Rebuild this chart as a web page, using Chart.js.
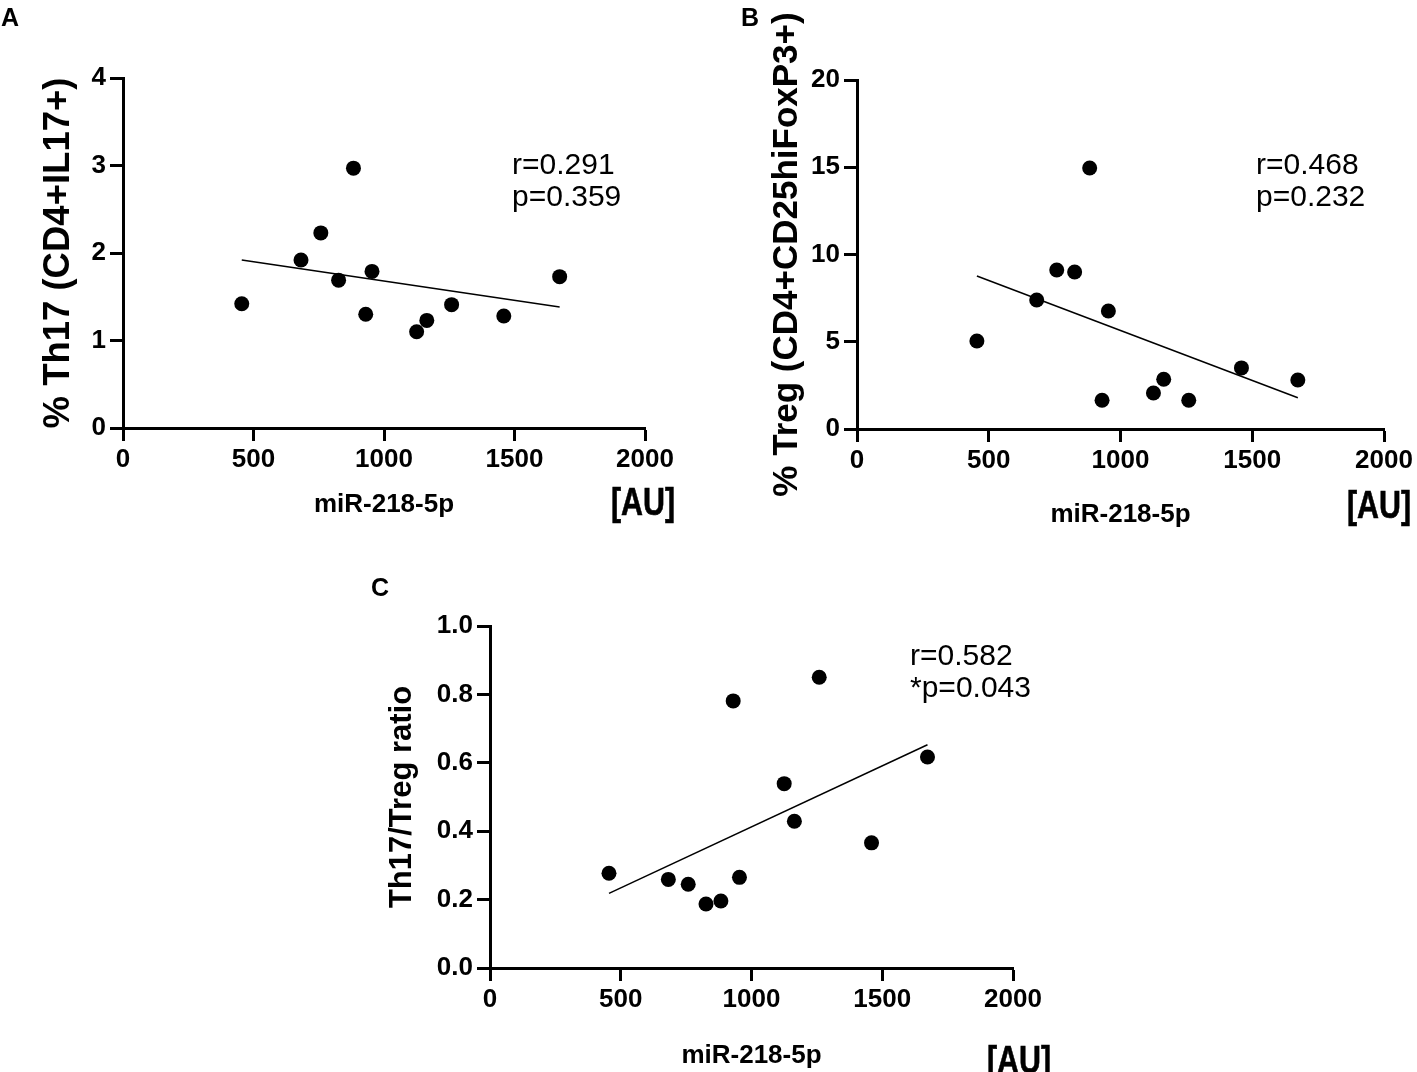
<!DOCTYPE html>
<html lang="en">
<head>
  <meta charset="UTF-8" />
  <title>miR-218-5p correlations</title>
  <script src="https://cdn.jsdelivr.net/npm/chart.js"></script>
  <style>
    body { margin: 0; background: #fff; }
    #page { position: relative; width: 1417px; height: 1072px; overflow: hidden; font-family: "Liberation Sans", Arial, sans-serif; color: #000; }
    #page canvas { position: absolute; }
    .lettre { position: absolute; font-weight: bold; font-size: 25px; line-height: 25px; }
    .stat { position: absolute; font-size: 30px; line-height: 32px; white-space: nowrap; }
    .au { position: absolute; font-weight: bold; font-size: 38px; line-height: 38px; transform: scaleX(0.8); transform-origin: left top; white-space: nowrap; -webkit-text-stroke: 0.6px #000; }
  </style>
</head>
<body>
  <div id="page">
    <canvas id="chartA" width="700" height="545" style="left:0; top:0;"></canvas>
    <canvas id="chartB" width="677" height="545" style="left:740px; top:0;"></canvas>
    <canvas id="chartC" width="700" height="502" style="left:360px; top:570px;"></canvas>

    <div class="lettre" style="left:1px; top:5px;">A</div>
    <div class="lettre" style="left:741px; top:5px;">B</div>
    <div class="lettre" style="left:371px; top:575px;">C</div>

    <div class="stat" style="left:512px; top:148px;">r=0.291<br>p=0.359</div>
    <div class="stat" style="left:1256px; top:148px;">r=0.468<br>p=0.232</div>
    <div class="stat" style="left:910px; top:639px;">r=0.582<br>*p=0.043</div>

    <div class="au" style="left:611px; top:483px;">[AU]</div>
    <div class="au" style="left:1347px; top:486px;">[AU]</div>
    <div class="au" style="left:987px; top:1041px;">[AU]</div>
  </div>

  <script>
    // valeurs (miR-218-5p en AU)
    const mir = [455, 682, 758, 826, 883, 930, 954, 1125, 1164, 1259, 1459, 1673];
    const th17 = [1.42, 1.92, 2.23, 1.69, 2.97, 1.30, 1.79, 1.10, 1.23, 1.41, 1.28, 1.73];
    const treg = [5.04, 7.39, 9.11, 9.00, 14.96, 1.65, 6.76, 2.06, 2.85, 1.65, 3.50, 2.81];
    const ratio = [0.277, 0.259, 0.245, 0.187, 0.196, 0.781, 0.265, 0.539, 0.429, 0.850, 0.366, 0.617];

    const xTicks = [0, 500, 1000, 1500, 2000];
    const yTicksA = [0, 1, 2, 3, 4];
    const yTicksB = [0, 5, 10, 15, 20];
    const yTicksC = [0, 0.2, 0.4, 0.6, 0.8, 1.0];

    const police = '"Liberation Sans", Arial, sans-serif';

    function regression(xs, ys) {
      const n = xs.length;
      const mx = xs.reduce((a, b) => a + b, 0) / n;
      const my = ys.reduce((a, b) => a + b, 0) / n;
      let sxy = 0, sxx = 0;
      xs.forEach((x, i) => {
        sxy += (x - mx) * (ys[i] - my);
        sxx += (x - mx) * (x - mx);
      });
      const pente = sxy / sxx;
      const x0 = Math.min(...xs);
      const x1 = Math.max(...xs);
      return [
        { x: x0, y: my + pente * (x0 - mx) },
        { x: x1, y: my + pente * (x1 - mx) }
      ];
    }

    function setTicks(values) {
      return scale => {
        scale.ticks = values.map(v => ({ value: v }));
      };
    }

    function tracer(id, ys, yTicks, cfg) {
      const axe = {
        color: '#000',
        grid: { display: true, drawOnChartArea: false, drawTicks: true, tickLength: 13, tickWidth: 3, tickColor: '#000' },
        border: { display: true, color: '#000', width: 3 }
      };

      new Chart(document.getElementById(id), {
        type: 'scatter',
        data: {
          datasets: [
            {
              data: regression(mir, ys),
              showLine: true,
              borderColor: '#000',
              borderWidth: 1.5,
              pointRadius: 0,
              order: 2
            },
            {
              data: mir.map((x, i) => ({ x: x, y: ys[i] })),
              backgroundColor: '#000',
              borderWidth: 0,
              pointRadius: 7.5,
              order: 1
            }
          ]
        },
        options: {
          responsive: false,
          animation: false,
          devicePixelRatio: 1,
          layout: { padding: cfg.padding },
          plugins: { legend: { display: false }, tooltip: { enabled: false } },
          scales: {
            x: {
              ...axe,
              type: 'linear',
              min: xTicks[0],
              max: xTicks[xTicks.length - 1],
              afterBuildTicks: setTicks(xTicks),
              ticks: {
                color: '#000',
                padding: 3,
                maxRotation: 0,
                font: { family: police, size: 26, weight: 'bold' },
                callback: v => String(v)
              },
              title: {
                display: true,
                text: 'miR-218-5p',
                color: '#000',
                font: { family: police, size: 26, weight: 'bold' },
                padding: { top: 0, bottom: cfg.xTitlePad }
              },
              afterFit: s => { s.height = cfg.xHeight; }
            },
            y: {
              ...axe,
              type: 'linear',
              min: yTicks[0],
              max: yTicks[yTicks.length - 1],
              afterBuildTicks: setTicks(yTicks),
              ticks: {
                color: '#000',
                padding: 4,
                font: { family: police, size: 26, weight: 'bold' },
                callback: v => cfg.decimales ? v.toFixed(cfg.decimales) : String(v)
              },
              title: {
                display: true,
                text: cfg.yTitle,
                color: '#000',
                font: { family: police, size: cfg.yTitleSize, weight: 'bold' },
                padding: { top: cfg.yTitlePad, bottom: 0 }
              },
              afterFit: s => { s.width = cfg.yWidth; }
            }
          }
        }
      });
    }

    tracer('chartA', th17, yTicksA, {
      padding: { left: 0, top: 78, right: 55, bottom: 0 },
      yWidth: 123, xHeight: 117, xTitlePad: 25, yTitlePad: 37, yTitleSize: 36.5,
      yTitle: '% Th17 (CD4+IL17+)'
    });

    tracer('chartB', treg, yTicksB, {
      padding: { left: 0, top: 80, right: 33, bottom: 0 },
      yWidth: 117, xHeight: 116, xTitlePad: 15, yTitlePad: 26, yTitleSize: 35,
      yTitle: '% Treg (CD4+CD25hiFoxP3+)'
    });

    tracer('chartC', ratio, yTicksC, {
      padding: { left: 0, top: 56, right: 47, bottom: 0 },
      yWidth: 130, xHeight: 104, xTitlePad: 1, yTitlePad: 24, yTitleSize: 31,
      yTitle: 'Th17/Treg ratio', decimales: 1
    });
  </script>
</body>
</html>
